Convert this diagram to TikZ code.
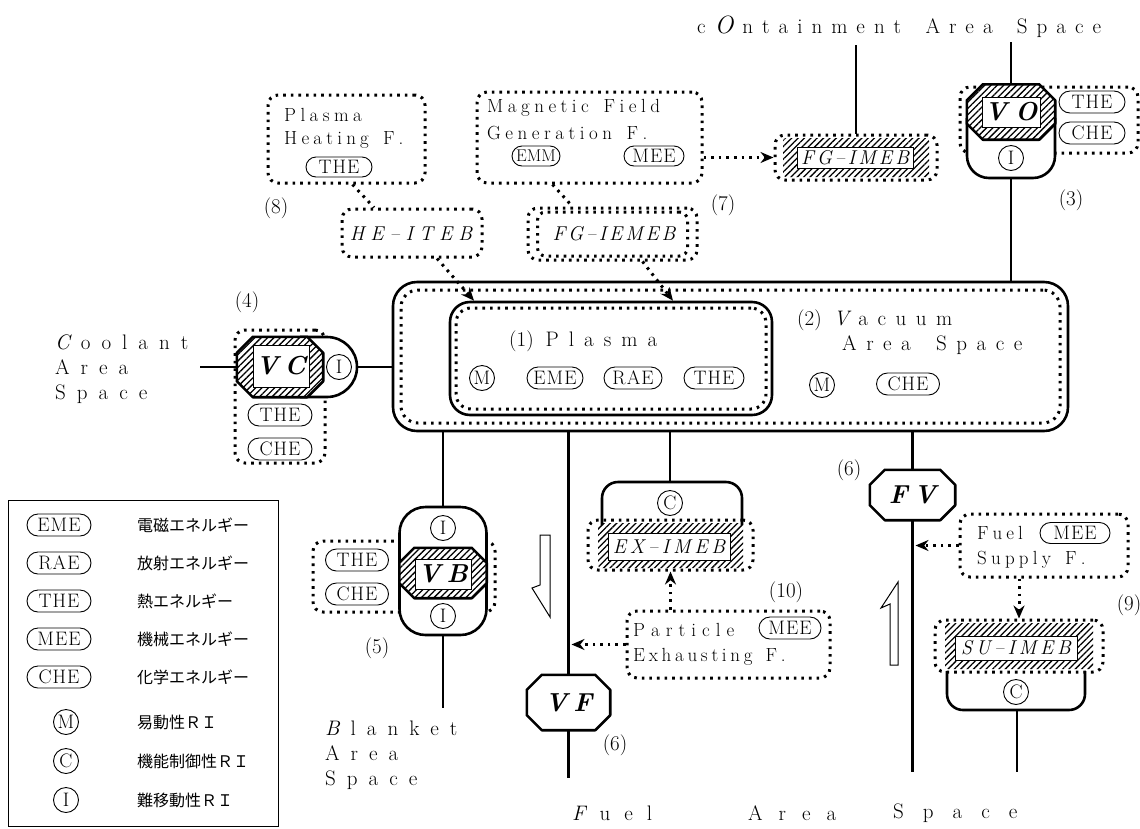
\documentclass[tikz,border=0pt]{standalone}
\usepackage{fontspec}
\newfontfamily\jpfont{Noto Sans CJK JP}
\usetikzlibrary{shapes.misc,patterns.meta,arrows.meta,calc}

\makeatletter
\def\lsp#1#2{\def\lsp@k{#1}\lsp@b#2\lsp@end}
\def\lsp@end{\lsp@end}
\def\lsp@endm{\lsp@end}
\def\lsp@b#1{{#1}\lsp@a}
\def\lsp@a#1{\def\lsp@t{#1}\ifx\lsp@t\lsp@endm\else\hskip\lsp@k\relax{#1}\expandafter\lsp@a\fi}
\makeatother

\newcommand\fsBig{\fontsize{21}{25}\selectfont}
\newcommand\fsFn{\fontsize{19}{25}\selectfont}
\newcommand\fsPill{\fontsize{19.5}{21}\selectfont}
\newcommand\fsTag{\fontsize{20}{22}\selectfont}
\newcommand\fsVal{\fontsize{26}{28}\selectfont}
\newcommand\fsNum{\fontsize{21}{23}\selectfont}
\newcommand\fsJP{\jpfont\fontsize{16}{18}\selectfont}

\newcommand\octo[7]{%
  \node[inner sep=0pt, minimum width=#4pt, minimum height=#5pt] (#1) at (#2,#3) {};
  \path[#7] ($(#1.north west)+(#6,0)$) -- ($(#1.north east)+(-#6,0)$)
    -- ($(#1.north east)+(0,#6)$) -- ($(#1.south east)+(0,-#6)$)
    -- ($(#1.south east)+(-#6,0)$) -- ($(#1.south west)+(#6,0)$)
    -- ($(#1.south west)+(0,-#6)$) -- ($(#1.north west)+(0,#6)$) -- cycle;}

\tikzset{
  thk/.style={line width=2.6pt, line join=round},
  dotl/.style={line width=3pt, dash pattern=on 2.6pt off 5pt},
  dotbox/.style={draw, dotl, rounded corners=10pt, inner sep=0pt},
  darr/.style={dotl, -{Stealth[length=13pt,width=11pt]}},
  pill/.style={draw, line width=0.9pt, rounded rectangle, minimum height=22pt,
    inner xsep=1pt, inner ysep=0pt, font=\fsPill},
  circ/.style={draw, circle, line width=0.9pt, minimum size=25pt, inner sep=0pt, font=\fsPill},
  whitebox/.style={draw, fill=white, line width=1pt, inner sep=0pt},
  hatch/.style={pattern={Lines[angle=45,distance=4.5pt,line width=1.3pt]}},
  hatchoct/.style={draw, thk, preaction={fill=white}, hatch},
  num/.style={font=\fsNum, inner sep=0pt},
  jp/.style={font=\fsJP, anchor=west, inner sep=0pt},
  fn/.style={font=\fsFn, anchor=west, inner sep=0pt},
  big/.style={font=\fsBig, anchor=west, inner sep=0pt, align=left},
  hollow/.style={draw, line width=1pt, fill=white, line join=miter},
}

\begin{document}
\begin{tikzpicture}[x=1pt,y=-1pt]
\useasboundingbox (0,0) rectangle (1140,828);
\fill[white] (0,0) rectangle (1140,828);

% ---------- vacuum and plasma ----------
\node[draw, thk, rounded corners=24pt, minimum width=675pt, minimum height=149pt, inner sep=0pt, fill=white] (vac) at (730.5,356.5) {};
\node[dotbox, rounded corners=17pt, minimum width=659pt, minimum height=133pt] (vacin) at (vac.center) {};
\node[draw, thk, rounded corners=20pt, minimum width=322pt, minimum height=113pt, inner sep=0pt] (pl) at (611,358.5) {};
\node[dotbox, rounded corners=15pt, minimum width=310pt, minimum height=101pt] (plin) at (pl.center) {};
\node[big] (pltxt) at (509,341) {(1)\hspace{12pt}\lsp{10pt}{Plasma}};
\node[circ] (plM) at (482,378) {M};
\node[pill, minimum width=58pt] (plEME) at (555,378) {\lsp{1pt}{EME}};
\node[pill, minimum width=60pt] (plRAE) at (633,378) {\lsp{1pt}{RAE}};
\node[pill, minimum width=62pt] (plTHE) at (714,378) {\lsp{1pt}{THE}};
\node[big] (vactxt) at (797,320) {(2)\hspace{12pt}\lsp{9.5pt}{{\itshape V}acuum}};
\node[big] (vactxt2) at (842,345) {\lsp{9.5pt}{Area\ Space}};
\node[circ] (vacM) at (822,385) {M};
\node[pill, minimum width=65pt] (vacCHE) at (908,384) {\lsp{1pt}{CHE}};

% ---------- containment ----------
\node[big] (cont) at (697,27) {\lsp{9pt}{c{\itshape\fontsize{25}{25}\selectfont O}ntainment\ Area\ Space}};

% FG-IMEB
\node[dotbox, minimum width=162pt, minimum height=45pt] (fgd) at (856,157.5) {};
\fill[hatch, rounded corners=3pt] (783,138) rectangle (929,177);
\node[whitebox, minimum width=116pt, minimum height=21pt, font=\fsTag] (fgt) at (855,157.5) {\itshape\lsp{3pt}{FG\textendash IMEB}};
\coordinate (ctop) at (856,45);
\draw[thk] (ctop) -- (fgd.north);

% VO
\node[dotbox, minimum width=178pt, minimum height=66pt] (vod) at (1049,120) {};
\draw[thk, fill=white, rounded corners=22pt] (967,118) -- (967,178) -- (1055,178) -- (1055,118);
\octo{vo}{1011}{112}{88}{55}{16}{hatchoct}
\node[whitebox, minimum width=58pt, minimum height=30pt, font=\fsVal] (vot) at (1011,112) {\bfseries\itshape\lsp{8pt}{VO}};
\node[circ] (voI) at (1011,158) {I};
\node[pill, minimum width=68pt] (voTHE) at (1092,102) {\lsp{1pt}{THE}};
\node[pill, minimum width=68pt] (voCHE) at (1092,133) {\lsp{1pt}{CHE}};
\coordinate (votop) at (1011,42);
\coordinate (vobot) at (1011,178);
\draw[thk] (votop) -- (vo.north);
\draw[thk] (vobot) -- (vac.north -| vobot);
\node[num] (n3) at (1071,200) {(3)};

% ---------- VC ----------
\node[dotbox, minimum width=90pt, minimum height=133pt] (vcd) at (280,396.5) {};
\draw[thk, fill=white, rounded corners=30pt] (300,337) -- (357,337) -- (357,397) -- (300,397);
\octo{vc}{280}{367}{86}{60}{16}{hatchoct}
\node[whitebox, minimum width=56pt, minimum height=42pt, font=\fsVal] (vct) at (281,366) {\bfseries\itshape\lsp{6pt}{VC}};
\node[circ] (vcI) at (339,367) {I};
\node[pill, minimum width=66pt] (vcTHE) at (280,415) {\lsp{1pt}{THE}};
\node[pill, minimum width=66pt] (vcCHE) at (280,449) {\lsp{1pt}{CHE}};
\node[num] (n4) at (247,302) {(4)};
\node[big] (cool) at (55,369) {\lsp{11pt}{{\itshape C}oolant}\\\lsp{11pt}{Area}\\\lsp{11pt}{Space}};
\coordinate (coolend) at (200,367);
\coordinate (vccap) at (357,367);
\draw[thk] (coolend) -- (vc.west);
\draw[thk] (vccap) -- (vac.west |- vccap);

% ---------- VB ----------
\node[dotbox, minimum width=182pt, minimum height=71pt] (vbd) at (404,576.5) {};
\node[draw, thk, fill=white, rounded corners=26pt, minimum width=87pt, minimum height=128pt, inner sep=0pt] (vbo) at (443,571) {};
\octo{vb}{443}{573}{87}{50}{15}{hatchoct}
\node[whitebox, minimum width=56pt, minimum height=30pt, font=\fsVal] (vbt) at (443,574) {\bfseries\itshape\lsp{6pt}{VB}};
\node[circ] (vbI1) at (443,528) {I};
\node[circ] (vbI2) at (443,616) {I};
\node[pill, minimum width=65pt] (vbTHE) at (357,560) {\lsp{1pt}{THE}};
\node[pill, minimum width=65pt] (vbCHE) at (357,594) {\lsp{1pt}{CHE}};
\node[num] (n5) at (377,648) {(5)};
\coordinate (blank) at (443,708);
\draw[thk] (vac.south -| vbo.north) -- (vbo.north);
\draw[thk] (vbo.south) -- (blank);
\node[big] (blk) at (325,755) {\lsp{11pt}{{\itshape B}lanket}\\\lsp{11pt}{Area}\\\lsp{11pt}{Space}};

% hollow arrows
\draw[hollow] (540,535) -- (550,535) -- (550,617) -- (532,588) -- (540,585) -- cycle;
\draw[hollow] (898,582) -- (898,665) -- (890,665) -- (890,604) -- (881,608) -- cycle;

% ---------- VF ----------
\octo{vf}{568.5}{702.5}{83}{55}{15}{draw, thk, fill=white}
\node[font=\fsVal, inner sep=0pt] (vft) at (vf.center) {\bfseries\itshape\lsp{6pt}{VF}};
\coordinate (vfend) at (568.5,778);
\draw[thk] (vac.south -| vf.north) -- (vf.north);
\draw[thk] (vf.south) -- (vfend);
\node[num] (n6b) at (615,745) {(6)};

% ---------- FV ----------
\octo{fv}{912.5}{495}{85}{50}{15}{draw, thk, fill=white}
\node[font=\fsVal, inner sep=0pt] (fvt) at (fv.center) {\bfseries\itshape\lsp{6pt}{FV}};
\coordinate (fvend) at (912.5,772);
\draw[thk] (vac.south -| fv.north) -- (fv.north);
\draw[thk] (fv.south) -- (fvend);
\node[num] (n6a) at (849,470) {(6)};

% ---------- EX-IMEB ----------
\coordinate (exbr) at (670,482);
\draw[thk] (vac.south -| exbr) -- (exbr);
\draw[thk, rounded corners=16pt] (602,525) -- (602,482) -- (742,482) -- (742,525);
\node[circ] (exC) at (670,503) {C};
\node[dotbox, minimum width=165pt, minimum height=50pt] (exd) at (670.5,545) {};
\fill[hatch, rounded corners=3pt] (598,523) rectangle (743,568);
\node[whitebox, minimum width=122pt, minimum height=27pt, font=\fsTag] (ext) at (669,546.5) {\itshape\lsp{3.7pt}{EX\textendash IMEB}};

% particle exhausting
\node[dotbox, minimum width=203pt, minimum height=67pt] (pe) at (728.5,644.5) {};
\node[fn] (pet1) at (633,630) {\lsp{6pt}{Particle}};
\node[pill, minimum width=64pt] (peMEE) at (790,628) {\lsp{1pt}{MEE}};
\node[fn] (pet2) at (633,657) {\lsp{3.7pt}{Exhausting\ F.}};
\draw[darr] (exd.south |- pe.north) -- (exd.south);
\draw[darr] (pe.west) -- ([xshift=3pt]vf.north |- pe.west);
\node[num] (n10) at (786,592) {(10)};

% ---------- fuel supply ----------
\node[dotbox, minimum width=168pt, minimum height=63pt] (fs) at (1044,545.5) {};
\node[fn] (fst1) at (977,533) {\lsp{4pt}{Fuel}};
\node[pill, minimum width=72pt, minimum height=21pt] (fsMEE) at (1075,533) {\lsp{1pt}{MEE}};
\node[fn] (fst2) at (977,560) {\lsp{4.2pt}{Supply\ F.}};
\node[num] (n9) at (1129,605) {(9)};

% SU-IMEB
\node[dotbox, minimum width=168pt, minimum height=52pt] (sud) at (1019,646) {};
\fill[hatch, rounded corners=3pt] (945,623) rectangle (1093,669);
\node[whitebox, minimum width=122pt, minimum height=24pt, font=\fsTag] (sut) at (1016,648) {\itshape\lsp{3.7pt}{SU\textendash IMEB}};
\draw[thk, rounded corners=16pt] (947,671) -- (947,710) -- (1085,710) -- (1085,671);
\node[circ] (suC) at (1016,692) {C};
\coordinate (subr) at (1017,710);
\coordinate (suend) at (1017,772);
\draw[thk] (subr) -- (suend);
\draw[darr] (fs.west) -- ([xshift=3pt]fv.south |- fs.west);
\draw[darr] (sud.north |- fs.south) -- (sud.north);

% ---------- top function boxes ----------
\node[dotbox, minimum width=157pt, minimum height=88pt] (phf) at (346.5,139) {};
\node[fn] (phft1) at (284,115) {\lsp{4.4pt}{Plasma}};
\node[fn] (phft2) at (284,140) {\lsp{4.2pt}{Heating\ F.}};
\node[pill, minimum width=68pt, minimum height=20pt] (phfTHE) at (339,167) {\lsp{1pt}{THE}};
\node[num] (n8) at (276,208) {(8)};

\node[dotbox, minimum width=225pt, minimum height=91pt] (mfg) at (589.5,137.5) {};
\node[fn] (mfgt1) at (487,108) {\lsp{4.5pt}{Magnetic\ Field}};
\node[fn] (mfgt2) at (487,133) {\lsp{4.5pt}{Generation\ F.}};
\node[pill, minimum width=50pt, minimum height=20pt, font=\fontsize{17}{19}\selectfont] (mfgEMM) at (536,156) {EMM};
\node[pill, minimum width=62pt, minimum height=20pt] (mfgMEE) at (654,156) {\lsp{1pt}{MEE}};
\node[num] (n7) at (723,205) {(7)};

\node[dotbox, minimum width=140pt, minimum height=48pt] (he) at (412,233) {};
\node[font=\fsTag, inner sep=0pt] (het) at (411,234) {\itshape\lsp{6pt}{HE\textendash ITEB}};
\node[dotbox, minimum width=169pt, minimum height=52pt] (fgie) at (612.5,234) {};
\node[dotbox, rounded corners=8pt, minimum width=150pt, minimum height=44pt] (fgiein) at (612.5,234) {};
\node[font=\fsTag, inner sep=0pt] (fgiet) at (614,234) {\itshape\lsp{2.8pt}{FG\textendash IEMEB}};

\draw[dotl] ([xshift=6pt]phf.south) -- ([xshift=-38pt]he.north);
\draw[darr] ([xshift=25pt]he.south) -- ([xshift=-137pt]pl.north);
\draw[dotl] ([xshift=-37pt]mfg.south) -- ([xshift=-40pt]fgie.north);
\draw[darr] ([xshift=30pt]fgie.south) -- ([xshift=62pt]pl.north);
\draw[darr] (mfg.east |- fgd.west) -- (fgd.west);

% ---------- fuel area space ----------
\node[big] (fu1) at (572,813) {\lsp{14pt}{{\itshape F}uel}};
\node[big] (fu2) at (748,813) {\lsp{16pt}{Area}};
\node[big] (fu3) at (893,813) {\lsp{19pt}{Space}};

% ---------- legend ----------
\node[draw, line width=1pt, minimum width=270pt, minimum height=326pt, inner sep=0pt] (legend) at (143,663) {};
\node[pill, minimum width=66pt] (lg1) at (59,525) {\lsp{1pt}{EME}};
\node[pill, minimum width=66pt] (lg2) at (59,563) {\lsp{1pt}{RAE}};
\node[pill, minimum width=66pt] (lg3) at (59,601) {\lsp{1pt}{THE}};
\node[pill, minimum width=66pt] (lg4) at (59,639) {\lsp{1pt}{MEE}};
\node[pill, minimum width=66pt] (lg5) at (59,677) {\lsp{1pt}{CHE}};
\node[circ] (lg6) at (66,722) {M};
\node[circ] (lg7) at (66,761) {C};
\node[circ] (lg8) at (66,800) {I};
\node[jp] (lt1) at (137,525) {電磁エネルギー};
\node[jp] (lt2) at (137,563) {放射エネルギー};
\node[jp] (lt3) at (137,601) {熱エネルギー};
\node[jp] (lt4) at (137,639) {機械エネルギー};
\node[jp] (lt5) at (137,677) {化学エネルギー};
\node[jp] (lt6) at (137,722) {易動性ＲＩ};
\node[jp] (lt7) at (137,761) {機能制御性ＲＩ};
\node[jp] (lt8) at (137,800) {難移動性ＲＩ};
\end{tikzpicture}
\end{document}
